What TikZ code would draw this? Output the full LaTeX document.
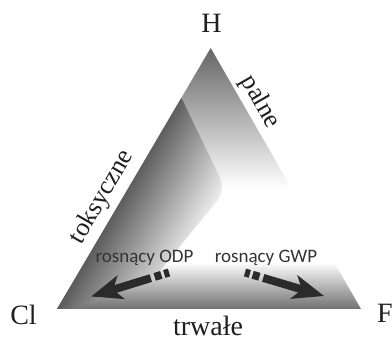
\documentclass[tikz,border=0pt]{standalone}
\usepackage{fontspec}
\setmainfont{Liberation Serif}
\newfontfamily\calib{Carlito}
\usetikzlibrary{arrows.meta}
\definecolor{arrowcol}{HTML}{2B2B2B}
\definecolor{txtcol}{HTML}{333333}
\begin{document}
\begin{tikzpicture}[x=1pt,y=-1pt,
  vlabel/.style={font=\fontsize{28}{30}\selectfont, text=black!88, inner sep=0pt},
  slabel/.style={font=\fontsize{26}{28}\selectfont, text=black!88, inner sep=0pt},
  glabel/.style={font=\calib\fontsize{19}{21}\selectfont, text=txtcol, inner sep=0pt},
  trendarrow/.style={draw=arrowcol, line width=8pt,
    dash pattern=on 5pt off 3pt on 7pt off 4pt on 300pt off 1pt,
    -{Stealth[length=31pt,width=24pt,inset=8pt]}}
]
\useasboundingbox (0,0) rectangle (392,339);
\coordinate (Cl) at (57,309);
\coordinate (F) at (361,309);
\coordinate (H) at (210.7,48);
% shaded triangle
\begin{scope}
  \clip (Cl) -- (F) -- (H) -- cycle;
  \fill[white] (0,0) rectangle (392,339);
  \begin{scope}[blend mode=darken]
    \shade[top color=black!62, middle color=black!47, bottom color=white] (40,44) rectangle (380,188);
    \shade[top color=white, bottom color=black!57] (40,262) rectangle (380,310);
    \begin{scope}
      \clip (181,97) [rounded corners=14pt] -- (226,190) -- (118,322) [sharp corners] -- (40,322) -- cycle;
      \begin{scope}[transform canvas={shift={(Cl)}, rotate=-30}]
        \shade[left color=black!64, right color=white] (0,-400) rectangle (95,400);
      \end{scope}
    \end{scope}
  \end{scope}
\end{scope}
% arrows
\coordinate (odpS) at (169,272.5);
\coordinate (odpT) at (91,296.5);
\coordinate (gwpS) at (245,272.5);
\coordinate (gwpT) at (324,296);
\draw[trendarrow] (odpS) -- (odpT);
\draw[trendarrow] (gwpS) -- (gwpT);
% labels
\node[vlabel, anchor=base] (hl) at (211.5,33) {H};
\node[vlabel, anchor=base] (cll) at (23.5,325) {Cl};
\node[vlabel, anchor=base] (fl) at (385,323) {F};
\node[vlabel, anchor=base] (tw) at (208,335.5) {trwałe};
\node[slabel, rotate=60] (tk) at (102,197) {toksyczne};
\node[slabel, rotate=-60] (pa) at (260,102) {palne};
\node[glabel, anchor=base] (odp) at (144.5,263) {rosnący ODP};
\node[glabel, anchor=base] (gwp) at (266,263) {rosnący GWP};
\end{tikzpicture}
\end{document}
